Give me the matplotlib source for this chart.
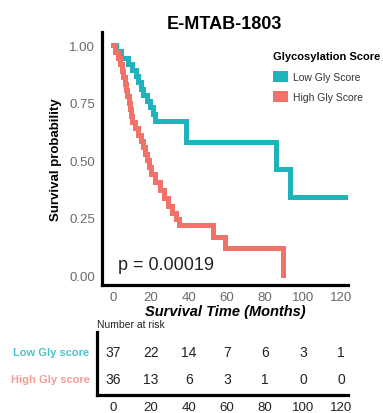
import matplotlib.pyplot as plt
from matplotlib.patches import Patch

plt.rcParams['font.family'] = ['Liberation Sans', 'DejaVu Sans']

# survival curves (months, survival probability after each step)
low_times = [0, 1.5, 4, 8, 10, 12, 13, 15, 16, 18, 19.5, 21, 22, 38.5, 86, 93, 122]
low_surv = [1.0, 0.973, 0.946, 0.919, 0.892, 0.865, 0.838, 0.811, 0.784, 0.757, 0.730, 0.703, 0.670,
            0.578, 0.46, 0.34, 0.34]

high_times = [0, 1.0, 2.5, 3.5, 4.5, 5.5, 6.2, 7.0, 7.6, 8.2, 8.8, 9.4, 10.0, 11.5, 13.0, 14.5, 15.8,
              17.0, 18.0, 19.0, 20.0, 22.0, 24.5, 27.0, 29.0, 31.0, 33.0, 35.0, 52.5, 59.0, 89.6]
high_surv = [1.0, 0.972, 0.944, 0.917, 0.889, 0.861, 0.833, 0.806, 0.778, 0.750, 0.722, 0.694, 0.667,
             0.639, 0.611, 0.583, 0.556, 0.528, 0.500, 0.470, 0.440, 0.405, 0.370, 0.335, 0.300, 0.270,
             0.245, 0.220, 0.165, 0.120, 0.0]

# number at risk table
risk_times = [0, 20, 40, 60, 80, 100, 120]
low_risk = [37, 22, 14, 7, 6, 3, 1]
high_risk = [36, 13, 6, 3, 1, 0, 0]

teal = '#1FB4BB'
red = '#F2726A'
grey = '#6a6a6a'

fig = plt.figure(figsize=(3.83, 4.14), dpi=100)

# main KM plot
ax = fig.add_axes([0.2663, 0.309, 0.642, 0.611])
ax.step(low_times, low_surv, where='post', color=teal, lw=3.6, solid_joinstyle='miter')
ax.step(high_times, high_surv, where='post', color=red, lw=3.6, solid_joinstyle='miter')
ax.set_xlim(-5.8, 123.7)
ax.set_ylim(-0.043, 1.057)
ax.set_xticks(risk_times)
ax.set_yticks([0, 0.25, 0.5, 0.75, 1.0])
ax.set_yticklabels(['0.00', '0.25', '0.50', '0.75', '1.00'])
ax.tick_params(length=0, labelsize=9.5, labelcolor=grey)
ax.tick_params(axis='y', pad=5)
ax.tick_params(axis='x', pad=4)
for s in ['top', 'right']:
    ax.spines[s].set_visible(False)
for s in ['left', 'bottom']:
    ax.spines[s].set_linewidth(2.3)
    ax.spines[s].set_color('black')

ax.set_title('E-MTAB-1803', fontsize=13, fontweight='bold', pad=2)
ax.set_ylabel('Survival probability', fontsize=9.5, fontweight='bold', labelpad=5)
ax.set_xlabel('Survival Time (Months)', fontsize=10.5, fontweight='bold', style='italic', labelpad=1)
ax.text(2.6, 0.048, 'p = 0.00019', fontsize=13, color='#222222', ha='left', va='center')

handles = [Patch(facecolor=teal, edgecolor='none', label='Low Gly Score'),
           Patch(facecolor=red, edgecolor='none', label='High Gly Score')]
leg = ax.legend(handles=handles, title='Glycosylation Score', loc='upper left',
                bbox_to_anchor=(266 / 383, 1 - 45 / 414), bbox_transform=fig.transFigure,
                frameon=False, fontsize=7.5, title_fontsize=8, handlelength=1.45, handleheight=1.25,
                handletextpad=0.4, labelspacing=0.9, alignment='left', borderpad=0.2)
leg.get_title().set_fontweight('bold')
for t in leg.get_texts():
    t.set_color('#333333')

# number at risk table
tab = fig.add_axes([97 / 383, 1 - 396 / 414, (348 - 97) / 383, (396 - 333) / 414])
tab.set_xlim(-8.4, 123.7)
tab.set_ylim(0, 1)
for x, lo, hi in zip(risk_times, low_risk, high_risk):
    tab.text(x, 0.68, str(lo), ha='center', va='center', fontsize=10, color='#222222')
    tab.text(x, 0.25, str(hi), ha='center', va='center', fontsize=10, color='#222222')
tab.set_xticks(risk_times)
tab.set_yticks([])
tab.tick_params(length=0, labelsize=9.5, labelcolor='#222222', pad=4)
for s in ['top', 'right']:
    tab.spines[s].set_visible(False)
for s in ['left', 'bottom']:
    tab.spines[s].set_linewidth(2.3)
    tab.spines[s].set_color('black')
tab.text(0, 1.04, 'Number at risk', transform=tab.transAxes, fontsize=7.5, color='#222222',
         ha='left', va='bottom')
tab.text(-0.03, 0.68, 'Low Gly score', transform=tab.transAxes, fontsize=8, fontweight='bold',
         color=teal, ha='right', va='center', alpha=0.8)
tab.text(-0.03, 0.25, 'High Gly score', transform=tab.transAxes, fontsize=8, fontweight='bold',
         color=red, ha='right', va='center', alpha=0.7)

fig.savefig('out.png', dpi=100)
